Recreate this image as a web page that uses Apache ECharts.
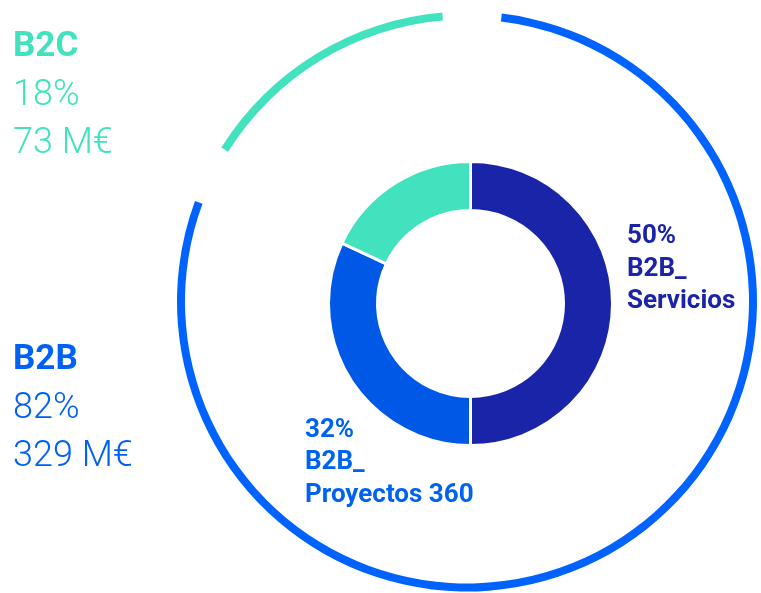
<!DOCTYPE html>
<html>
<head>
<meta charset="utf-8">
<script src="https://cdn.jsdelivr.net/npm/echarts@6/dist/echarts.min.js"></script>
<style>
html,body{margin:0;padding:0;background:#fff;}
#chart{width:761px;height:593px;}
</style>
</head>
<body>
<div id="chart"></div>
<script>
// Outer ring: segment totals
const outerCategories = ['B2B', 'B2C'];
const outerShares = [82, 18];        // %
const outerAmounts = [329, 73];      // M€
// Inner donut: sub-segments
const innerCategories = ['B2B_Servicios', 'B2B_Proyectos 360', 'B2C'];
const innerShares = [50, 32, 18];    // %

const outerColors = ['#0062FF', '#41E2BD'];
const innerColors = ['#1A24A9', '#0059E6', '#41E2BD'];
const innerLabelColors = ['#1A24A9', '#0062F0', '#41E2BD'];

const FONT = 'Roboto, "Noto Sans", sans-serif';

const chart = echarts.init(document.getElementById('chart'), null, {renderer: 'canvas'});

// Left legend blocks (B2C on top, B2B lower)
const legendPos = { 'B2C': [13, 47], 'B2B': [13, 360] };
const legendLineGap = [0, 48.5, 97];
const graphics = [];
outerCategories.forEach((cat, i) => {
  const [x, y] = legendPos[cat];
  const lines = [cat, outerShares[i] + '%', outerAmounts[i] + ' M€'];
  lines.forEach((t, j) => {
    graphics.push({
      type: 'text', x: x, y: y + legendLineGap[j], silent: true,
      style: {
        text: t,
        fill: outerColors[i] === '#0062FF' ? '#0062F5' : outerColors[i],
        font: (j === 0 ? 'bold 35px ' : '300 36px ') + FONT,
        verticalAlign: 'middle', align: 'left'
      }
    });
  });
});

// Inner labels (only for the B2B sub-segments)
const innerLabelPos = [[627, 236.5], [305, 430]];
[0, 1].forEach(i => {
  const name = innerCategories[i];
  const k = name.indexOf('_');
  const lines = [innerShares[i] + '%', name.slice(0, k + 1), name.slice(k + 1)];
  const [x, y] = innerLabelPos[i];
  lines.forEach((t, j) => {
    graphics.push({
      type: 'text', x: x, y: y + j * 32.5, silent: true,
      style: {
        text: t, fill: innerLabelColors[i],
        font: 'bold 26px ' + FONT,
        verticalAlign: 'middle', align: 'left'
      }
    });
  });
});

chart.setOption({
  animation: false,
  backgroundColor: '#ffffff',
  graphic: graphics,
  series: [
    {
      type: 'pie',
      name: 'outer',
      center: [467, 301.5],
      radius: [282, 290],
      startAngle: 89,
      clockwise: true,
      padAngle: 11.8,
      silent: true,
      label: {show: false},
      labelLine: {show: false},
      emphasis: {disabled: true},
      data: outerCategories.map((c, i) => ({
        name: c, value: outerShares[i], itemStyle: {color: outerColors[i]}
      }))
    },
    {
      type: 'pie',
      name: 'inner',
      center: [470.5, 303.5],
      radius: [93, 142],
      startAngle: 90,
      clockwise: true,
      silent: true,
      label: {show: false},
      labelLine: {show: false},
      emphasis: {disabled: true},
      itemStyle: {borderColor: '#ffffff', borderWidth: 3},
      data: innerCategories.map((c, i) => ({
        name: c, value: innerShares[i], itemStyle: {color: innerColors[i]}
      }))
    }
  ]
});
</script>
</body>
</html>
